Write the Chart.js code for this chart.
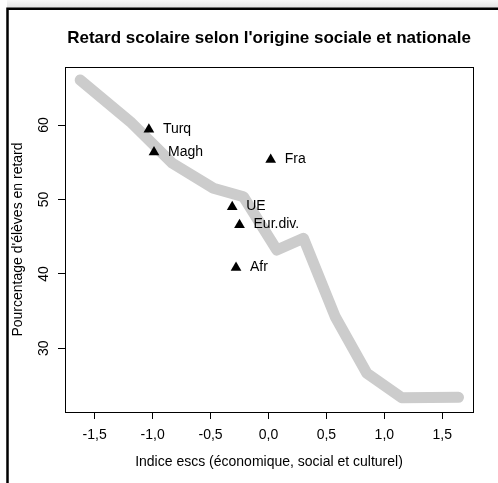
<!DOCTYPE html>
<html>
<head>
<meta charset="utf-8">
<script src="https://cdn.jsdelivr.net/npm/chart.js@4/dist/chart.umd.min.js"></script>
<style>
html,body{margin:0;padding:0;background:#fff;}
#wrap{width:498px;height:483px;position:relative;}
</style>
</head>
<body>
<div id="wrap"><canvas id="c" width="498" height="483"></canvas></div>
<script>
// ---- data ----
const escsCurveX = [-1.625, -1.193, -0.831, -0.475, -0.216, 0.072, 0.302, 0.576, 0.849, 1.151, 1.640];
const retardCurveY = [66.05, 60.45, 54.89, 51.50, 50.37, 43.21, 44.78, 34.24, 26.64, 23.35, 23.41];

const groupNames = ['Turq', 'Magh', 'Fra', 'UE', 'Eur.div.', 'Afr'];
const groupEscs = [-1.032, -0.988, 0.019, -0.313, -0.250, -0.280];
const groupRetard = [59.40, 56.35, 55.36, 49.01, 46.59, 40.83];

const xTickValues = [-1.5, -1.0, -0.5, 0.0, 0.5, 1.0, 1.5];
const xTickLabels = ['-1,5', '-1,0', '-0,5', '0,0', '0,5', '1,0', '1,5'];
const yTickValues = [30, 40, 50, 60];
const yTickLabels = ['30', '40', '50', '60'];

const titleText = "Retard scolaire selon l'origine sociale et nationale";
const xTitle = 'Indice escs (économique, social et culturel)';
const yTitle = "Pourcentage d'élèves en retard";

const FONT = '"Liberation Sans", Arial, Helvetica, sans-serif';

const decor = {
  id: 'decor',
  beforeDraw(chart) {
    const ctx = chart.ctx;
    ctx.save();
    ctx.fillStyle = '#fff';
    ctx.fillRect(0, 0, chart.width, chart.height);
    const g = ctx.createLinearGradient(0, 0, 0, 8);
    g.addColorStop(0, '#f8f8f8');
    g.addColorStop(1, '#e2e2e2');
    ctx.fillStyle = g;
    ctx.fillRect(7, 0, chart.width - 7, 8);
    ctx.strokeStyle = '#000';
    ctx.lineWidth = 2.5;
    ctx.beginPath();
    ctx.moveTo(7.5, chart.height);
    ctx.lineTo(7.5, 8.75);
    ctx.lineTo(chart.width, 8.75);
    ctx.stroke();
    ctx.restore();
  },
  afterDatasetsDraw(chart) {
    const ctx = chart.ctx;
    const ca = chart.chartArea;
    ctx.save();
    ctx.strokeStyle = '#000';
    ctx.lineWidth = 1;
    ctx.strokeRect(ca.left + 0.5, ca.top + 0.5, ca.right - ca.left, ca.bottom - ca.top);
    const meta = chart.getDatasetMeta(0);
    ctx.fillStyle = '#000';
    ctx.font = '14px ' + FONT;
    ctx.textAlign = 'left';
    ctx.textBaseline = 'alphabetic';
    meta.data.forEach((pt, i) => {
      ctx.fillText(groupNames[i], pt.x + 14, pt.y + 3.6);
    });
    ctx.restore();
  }
};

new Chart(document.getElementById('c'), {
  type: 'scatter',
  data: {
    datasets: [
      {
        label: 'groupes',
        data: groupEscs.map((x, i) => ({x: x, y: groupRetard[i]})),
        pointStyle: 'triangle',
        pointRadius: 6.2,
        pointBackgroundColor: '#000',
        pointBorderWidth: 0,
        showLine: false
      },
      {
        label: 'ensemble',
        data: escsCurveX.map((x, i) => ({x: x, y: retardCurveY[i]})),
        showLine: true,
        borderColor: '#cccccc',
        borderWidth: 11,
        borderCapStyle: 'round',
        borderJoinStyle: 'round',
        pointRadius: 0,
        tension: 0,
        fill: false
      }
    ]
  },
  options: {
    responsive: false,
    animation: false,
    devicePixelRatio: 1,
    layout: {padding: {left: 0, right: 25, top: 0, bottom: 0}},
    plugins: {
      legend: {display: false},
      tooltip: {enabled: false},
      title: {
        display: true,
        text: titleText,
        fullSize: false,
        color: '#000',
        font: {family: FONT, size: 17, weight: 'bold', lineHeight: 1.2},
        padding: {top: 28.4, bottom: 18.2}
      }
    },
    scales: {
      x: {
        type: 'linear',
        min: -1.756,
        max: 1.765,
        afterBuildTicks: s => { s.ticks = xTickValues.map(v => ({value: v})); },
        afterFit: s => { s.height = 71; },
        ticks: {
          callback: (v, i) => xTickLabels[i],
          font: {family: FONT, size: 14},
          color: '#000',
          padding: 8,
          minRotation: 0,
          maxRotation: 0,
          autoSkip: false
        },
        grid: {display: true, drawOnChartArea: false, drawTicks: true, tickLength: 7, color: '#000', lineWidth: 1},
        border: {display: false},
        title: {display: true, text: xTitle, color: '#000', font: {family: FONT, size: 14}, padding: {top: 0, bottom: 12.7}}
      },
      y: {
        type: 'linear',
        min: 21.44,
        max: 67.8,
        afterBuildTicks: s => { s.ticks = yTickValues.map(v => ({value: v})); },
        afterFit: s => { s.width = 65; },
        ticks: {
          callback: (v, i) => yTickLabels[i],
          font: {family: FONT, size: 14},
          color: '#000',
          padding: 6,
          minRotation: 90,
          maxRotation: 90,
          crossAlign: 'center',
          autoSkip: false
        },
        grid: {display: true, drawOnChartArea: false, drawTicks: true, tickLength: 7, color: '#000', lineWidth: 1},
        border: {display: false},
        title: {display: true, text: yTitle, color: '#000', font: {family: FONT, size: 14}, padding: {top: 10, bottom: 0}}
      }
    }
  },
  plugins: [decor]
});
</script>
</body>
</html>
